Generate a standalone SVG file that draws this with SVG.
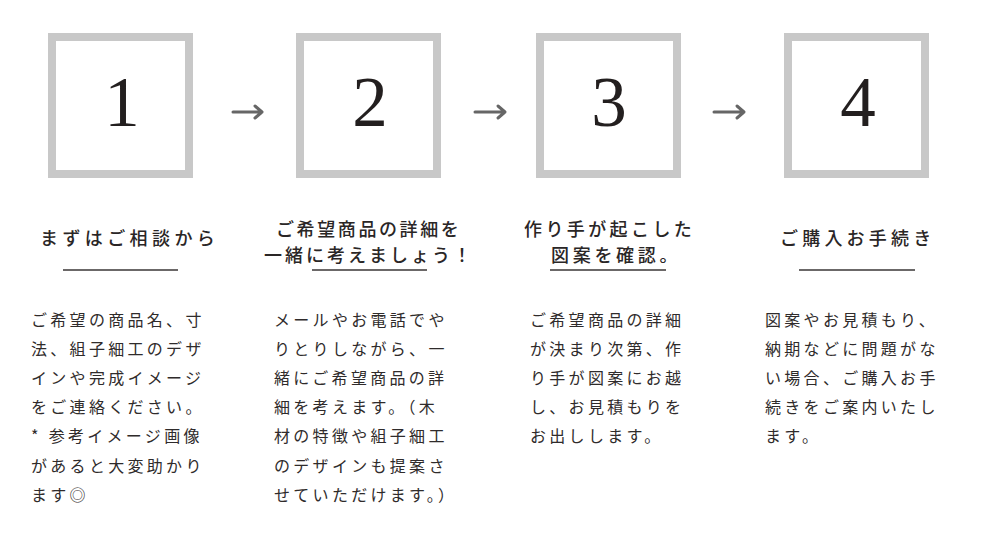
<svg xmlns="http://www.w3.org/2000/svg" width="990" height="533" viewBox="0 0 990 533">
<style>
.box{fill:#fff;stroke:#c8c8c8;stroke-width:8}
.num{font-family:"Liberation Serif","Times New Roman",serif;font-size:71px;fill:#231f1f;text-anchor:middle}
.ttl{font-family:"Noto Sans CJK JP",sans-serif;font-size:18px;font-weight:500;fill:#2a2626}
.ul{stroke:#3a3636;stroke-width:1.3}
.body{font-family:"Noto Sans CJK JP",sans-serif;font-size:16px;fill:#2f2b2b;letter-spacing:3.3px}
.arr{fill:none;stroke:#666;stroke-width:3;stroke-linecap:round;stroke-linejoin:round}
</style>
<rect width="990" height="533" fill="#fff"/>
<g id="step1">
<rect class="box" x="52" y="37" width="137" height="137"/>
<text class="num" x="122" y="126">1</text>
<text class="ttl" x="40" y="245" letter-spacing="4.4">まずはご相談から</text>
<line class="ul" x1="63" y1="270" x2="178" y2="270"/>
<text class="body" x="31" y="325.5"><tspan x="31">ご希望の商品名、寸</tspan><tspan x="31" dy="29.2">法、組子細工のデザ</tspan><tspan x="31" dy="29.2">インや完成イメージ</tspan><tspan x="31" dy="29.2">をご連絡ください。</tspan><tspan x="31" dy="29.2">* 参考イメージ画像</tspan><tspan x="31" dy="29.2">があると大変助かり</tspan><tspan x="31" dy="29.2">ます◎</tspan></text>
</g>
<g id="step2">
<rect class="box" x="300" y="37" width="137" height="137"/>
<text class="num" x="370" y="126">2</text>
<text class="ttl" x="276" y="235.5" letter-spacing="2.6">ご希望商品の詳細を</text>
<text class="ttl" x="264" y="262" letter-spacing="3">一緒に考えましょう！</text>
<line class="ul" x1="312" y1="270" x2="427" y2="270"/>
<text class="body" x="274" y="325.5"><tspan x="274">メールやお電話でや</tspan><tspan x="274" dy="29.2">りとりしながら、一</tspan><tspan x="274" dy="29.2">緒にご希望商品の詳</tspan><tspan x="274" dy="29.2">細を考えます。（木</tspan><tspan x="274" dy="29.2">材の特徴や組子細工</tspan><tspan x="274" dy="29.2">のデザインも提案さ</tspan><tspan x="274" dy="29.2">せていただけます。）</tspan></text>
</g>
<g id="step3">
<rect class="box" x="540" y="37" width="137" height="137"/>
<text class="num" x="609" y="126">3</text>
<text class="ttl" x="524" y="235.5" letter-spacing="3.4">作り手が起こした</text>
<text class="ttl" x="551" y="262" letter-spacing="3.7">図案を確認。</text>
<line class="ul" x1="550" y1="270" x2="666" y2="270"/>
<text class="body" x="530" y="325.5"><tspan x="530">ご希望商品の詳細</tspan><tspan x="530" dy="29.2">が決まり次第、作</tspan><tspan x="530" dy="29.2">り手が図案にお越</tspan><tspan x="530" dy="29.2">し、お見積もりを</tspan><tspan x="530" dy="29.2">お出しします。</tspan></text>
</g>
<g id="step4">
<rect class="box" x="788" y="37" width="137" height="137"/>
<text class="num" x="858" y="126">4</text>
<text class="ttl" x="780" y="245" letter-spacing="4.2">ご購入お手続き</text>
<line class="ul" x1="799" y1="270" x2="915" y2="270"/>
<text class="body" x="765" y="325.5"><tspan x="765">図案やお見積もり、</tspan><tspan x="765" dy="29.2">納期などに問題がな</tspan><tspan x="765" dy="29.2">い場合、ご購入お手</tspan><tspan x="765" dy="29.2">続きをご案内いたし</tspan><tspan x="765" dy="29.2">ます。</tspan></text>
</g>
<g id="connectors">
<path class="arr" d="M233 112H262M255 106L262 112L255 118"/>
<path class="arr" d="M475 112H505M498 106L505 112L498 118"/>
<path class="arr" d="M714 112H744M737 106L744 112L737 118"/>
</g>
</svg>
